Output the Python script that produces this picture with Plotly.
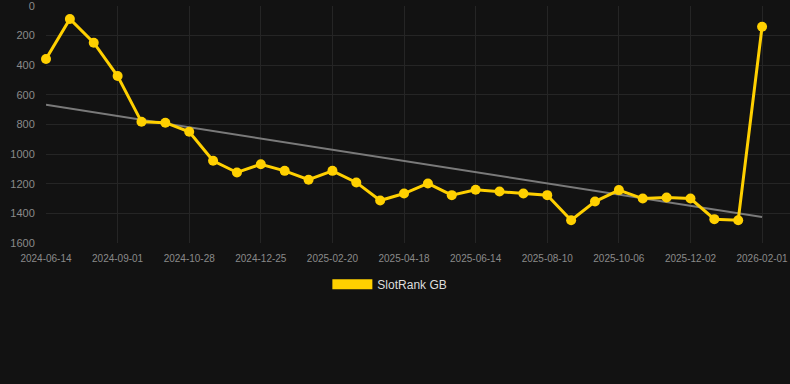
import numpy as np
import plotly.graph_objects as go

dates = [
    "2024-06-14", "2024-07-10", "2024-08-06", "2024-09-01", "2024-09-20", "2024-10-09",
    "2024-10-28", "2024-11-16", "2024-12-06", "2024-12-25", "2025-01-13", "2025-02-01",
    "2025-02-20", "2025-03-11", "2025-03-30", "2025-04-18", "2025-05-07", "2025-05-26",
    "2025-06-14", "2025-07-03", "2025-07-22", "2025-08-10", "2025-08-29", "2025-09-17",
    "2025-10-06", "2025-10-25", "2025-11-13", "2025-12-02", "2025-12-22", "2026-01-11",
    "2026-02-01",
]
rank = [
    358, 88, 248, 473, 782, 788, 849, 1045, 1124, 1068, 1113, 1173, 1113, 1191, 1313,
    1266, 1198, 1277, 1241, 1252, 1266, 1277, 1446, 1320, 1243, 1300, 1293, 1300, 1439,
    1446, 140,
]
tick_labels = dates[::3]
series_name = "SlotRank GB"
y_ticks = [0, 200, 400, 600, 800, 1000, 1200, 1400, 1600]

idx = np.arange(len(rank))
slope, intercept = np.polyfit(idx, rank, 1)
trend = slope * idx + intercept

YELLOW = "#FFD000"
BG = "#121212"
GRID = "#252525"
TXT = "#8a8a8a"
FONT = "Liberation Sans, Arial, sans-serif"

fig = go.Figure()
fig.add_trace(go.Scatter(
    x=dates, y=trend, mode="lines",
    line=dict(color="#7a7a7a", width=2),
    showlegend=False, hoverinfo="skip", cliponaxis=False,
))
fig.add_trace(go.Scatter(
    x=dates, y=rank, mode="lines+markers",
    line=dict(color=YELLOW, width=3),
    marker=dict(color=YELLOW, size=10),
    showlegend=False, cliponaxis=False,
))
fig.add_trace(go.Scatter(
    x=[None], y=[None], mode="lines", name=series_name,
    line=dict(color=YELLOW, width=12),
    showlegend=True,
))

fig.update_layout(
    width=790, height=384,
    paper_bgcolor=BG, plot_bgcolor=BG,
    margin=dict(l=46, r=0, t=6, b=141),
    font=dict(family=FONT, color=TXT),
    showlegend=True,
    legend=dict(
        orientation="h", x=0.4935, xanchor="center", xref="container",
        y=0.26, yanchor="middle", yref="container",
        font=dict(size=12, color="#dddddd", family=FONT),
        itemwidth=40, bgcolor="rgba(0,0,0,0)",
    ),
    xaxis=dict(
        type="category",
        categoryorder="array", categoryarray=dates,
        range=[0, 31.17],
        tickmode="array", tickvals=tick_labels, ticktext=tick_labels,
        showgrid=True, gridcolor=GRID, gridwidth=1,
        zeroline=False, showline=False,
        ticks="outside", ticklen=6, tickcolor="rgba(0,0,0,0)",
        tickfont=dict(size=10, color=TXT, family=FONT),
        tickangle=0, ticklabeloverflow="allow",
    ),
    yaxis=dict(
        range=[1600, 0],
        tickmode="array", tickvals=y_ticks,
        showgrid=True, gridcolor=GRID, gridwidth=1,
        zeroline=False, showline=False,
        ticks="outside", ticklen=8, tickcolor="rgba(0,0,0,0)",
        tickfont=dict(size=11, color=TXT, family=FONT),
        ticklabeloverflow="allow",
    ),
)

fig.write_html(
    "out.html",
    config={"displayModeBar": False},
    post_script="document.body.style.margin='0';document.body.style.background='#121212';",
)
